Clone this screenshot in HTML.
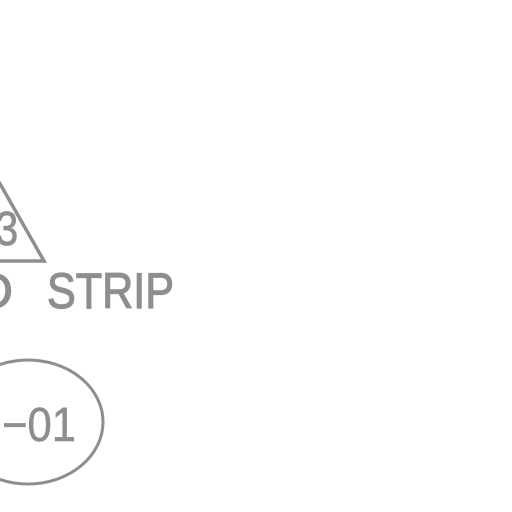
<!DOCTYPE html>
<html><head><meta charset="utf-8"><style>
html,body{margin:0;padding:0;background:#fff;width:512px;height:512px;overflow:hidden}
</style></head><body>
<svg width="512" height="512" viewBox="0 0 512 512">
  <g>
    <polyline points="-46,261 44,261 -1,182" fill="none" stroke="#8e8e8e" stroke-width="3.5" stroke-linejoin="miter"/>
    <text x="8" y="245" font-family="Liberation Sans, sans-serif" font-size="48" fill="#8e8e8e" stroke="#8e8e8e" stroke-width="0.8" text-anchor="middle" transform="scale(0.85,1)">3</text>
  </g>
  <text x="13" y="308" font-family="Liberation Sans, sans-serif" font-size="50" fill="#8e8e8e" stroke="#8e8e8e" stroke-width="1.2" text-anchor="end">D</text>
  <text x="47" y="308" font-family="Liberation Sans, sans-serif" font-size="50" fill="#8e8e8e" stroke="#8e8e8e" stroke-width="1.2" textLength="127" lengthAdjust="spacingAndGlyphs">STRIP</text>
  <g>
    <ellipse cx="28" cy="422" rx="75" ry="62" fill="none" stroke="#8e8e8e" stroke-width="3"/>
    <text x="2" y="441" font-family="Liberation Sans, sans-serif" font-size="48" fill="#8e8e8e" stroke="#8e8e8e" stroke-width="0.6" textLength="74" lengthAdjust="spacingAndGlyphs">−01</text>
  </g>
</svg>
</body></html>
